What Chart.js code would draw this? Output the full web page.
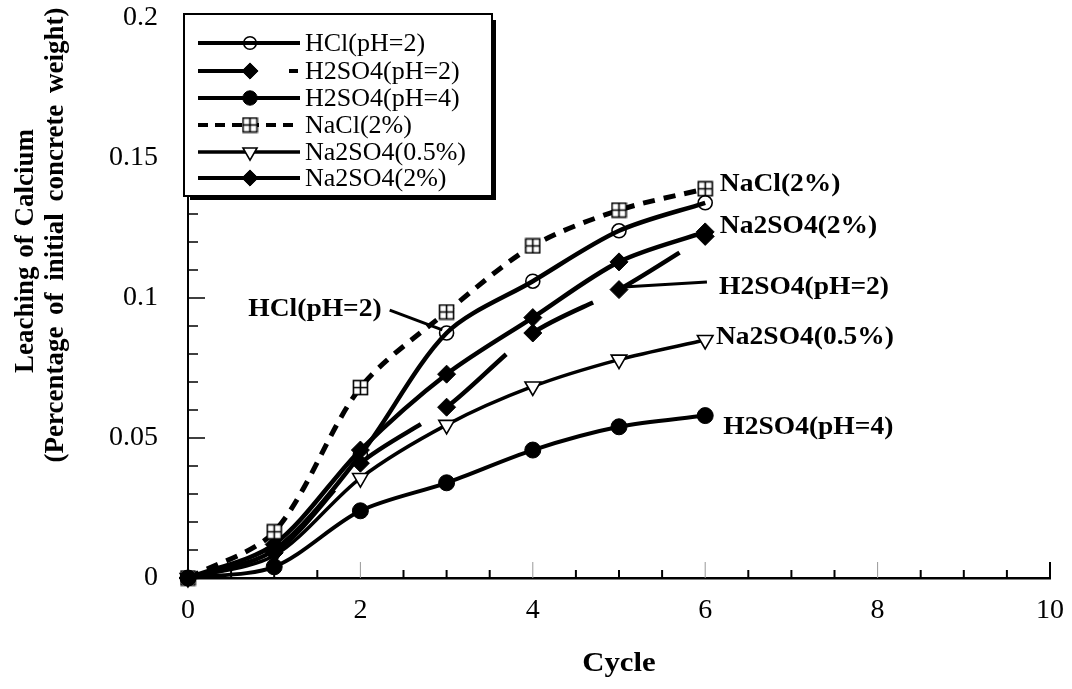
<!DOCTYPE html>
<html>
<head>
<meta charset="utf-8">
<script src="https://cdn.jsdelivr.net/npm/chart.js"></script>
<style>
  body { margin: 0; background: #fff; }
  #wrap { width: 1072px; height: 689px; }
</style>
</head>
<body>
<div id="wrap"><canvas id="leachChart" width="1072" height="689"></canvas></div>
<script>
// values (fraction of initial concrete weight)
const cycles = [0, 1, 2, 3, 4, 5, 6];
const hclPH2 = [0, 0.010, 0.044, 0.0875, 0.106, 0.124, 0.134];
const h2so4PH2 = [0, 0.009, 0.041, 0.061, 0.0875, 0.103, 0.122];
const h2so4PH4 = [0, 0.004, 0.024, 0.034, 0.0457, 0.054, 0.058];
const nacl2 = [0, 0.0165, 0.068, 0.095, 0.1186, 0.1314, 0.139];
const na2so405 = [0, 0.008, 0.0357, 0.0547, 0.0684, 0.078, 0.085];
const na2so42 = [0, 0.012, 0.0457, 0.0728, 0.093, 0.1129, 0.1236];

const seriesNames = ['HCl(pH=2)', 'H2SO4(pH=2)', 'H2SO4(pH=4)', 'NaCl(2%)', 'Na2SO4(0.5%)', 'Na2SO4(2%)'];
const yTicks = [0, 0.05, 0.1, 0.15, 0.2];
const xTicks = [0, 2, 4, 6, 8, 10];

const SERIF = "'Liberation Serif', 'Times New Roman', serif";

function toPoints(vals) {
	return cycles.map((c, i) => ({x: c, y: vals[i]}));
}

// square with a cross, like the NaCl marker
function makeBoxCross(size) {
	const c = document.createElement('canvas');
	c.width = size; c.height = size;
	const g = c.getContext('2d');
	g.fillStyle = '#fff';
	g.fillRect(1, 1, size - 2, size - 2);
	g.strokeStyle = '#000';
	g.lineWidth = 1.6;
	g.strokeRect(1.5, 1.5, size - 3, size - 3);
	g.beginPath();
	g.moveTo(size / 2, 1.5); g.lineTo(size / 2, size - 1.5);
	g.moveTo(1.5, size / 2); g.lineTo(size - 1.5, size / 2);
	g.stroke();
	return c;
}
const boxCross = makeBoxCross(17);

// long dash that restarts at every data point (like the H2SO4 pH=2 curve)
function restartDash(ctx) {
	const dx = ctx.p1.x - ctx.p0.x, dy = ctx.p1.y - ctx.p0.y;
	const len = Math.sqrt(dx * dx + dy * dy);
	return [Math.max(len * 0.7, 1), 3000];
}

const datasets = [
	{label: seriesNames[0], data: toPoints(hclPH2), borderColor: '#000', borderWidth: 4.5,
	 pointStyle: 'circle', pointRadius: 7, pointBorderWidth: 1.6, pointBackgroundColor: 'rgba(0,0,0,0)', pointBorderColor: '#000'},
	{label: seriesNames[1], data: toPoints(h2so4PH2), borderColor: '#000', borderWidth: 4.5,
	 segment: {borderDash: restartDash},
	 pointStyle: 'rectRot', pointRadius: 9, pointBorderWidth: 1, pointBackgroundColor: '#000', pointBorderColor: '#000'},
	{label: seriesNames[2], data: toPoints(h2so4PH4), borderColor: '#000', borderWidth: 4,
	 pointStyle: 'circle', pointRadius: 8, pointBorderWidth: 1, pointBackgroundColor: '#000', pointBorderColor: '#000'},
	{label: seriesNames[3], data: toPoints(nacl2), borderColor: '#000', borderWidth: 5, borderDash: [12, 9],
	 pointStyle: boxCross, pointRadius: 8},
	{label: seriesNames[4], data: toPoints(na2so405), borderColor: '#000', borderWidth: 3.5,
	 pointStyle: 'triangle', rotation: 180, pointRadius: 9, pointBorderWidth: 1.6, pointBackgroundColor: '#fff', pointBorderColor: '#000'},
	{label: seriesNames[5], data: toPoints(na2so42), borderColor: '#000', borderWidth: 4.5,
	 pointStyle: 'rectRot', pointRadius: 9, pointBorderWidth: 1, pointBackgroundColor: '#000', pointBorderColor: '#000'}
];
datasets.forEach(d => { d.tension = 0.3; d.clip = false; d.fill = false; });

// inward tick marks on both axes
const axisTicks = {
	id: 'axisTicks',
	beforeDatasetsDraw(chart) {
		const {ctx, chartArea} = chart;
		const xs = chart.scales.x, ys = chart.scales.y;
		ctx.save();
		ctx.strokeStyle = '#000';
		for (let v = 1; v < 20; v++) {
			const py = ys.getPixelForValue(v / 100);
			const major = v % 5 === 0;
			ctx.lineWidth = 1.5;
			ctx.beginPath();
			ctx.moveTo(chartArea.left, py);
			ctx.lineTo(chartArea.left + (major ? 17 : 10), py);
			ctx.stroke();
		}
		for (let k = 1; k <= 20; k++) {
			const v = k / 2;
			const px = xs.getPixelForValue(v);
			ctx.beginPath();
			if (v === 10) {
				ctx.lineWidth = 2; ctx.strokeStyle = '#000';
				ctx.moveTo(px, chartArea.bottom); ctx.lineTo(px, chartArea.bottom - 16);
			} else if (v % 2 === 0) {
				ctx.lineWidth = 1; ctx.strokeStyle = '#999';
				ctx.moveTo(px, chartArea.bottom); ctx.lineTo(px, chartArea.bottom - 16);
			} else {
				ctx.lineWidth = 2; ctx.strokeStyle = '#000';
				ctx.moveTo(px, chartArea.bottom); ctx.lineTo(px, chartArea.bottom - 8);
			}
			ctx.stroke();
		}
		ctx.restore();
	}
};

function drawMarker(ctx, ds, x, y) {
	if (Chart.helpers && Chart.helpers.drawPoint) {
		ctx.fillStyle = ds.pointBackgroundColor || '#000';
		ctx.strokeStyle = ds.pointBorderColor || '#000';
		ctx.lineWidth = ds.pointBorderWidth || 1;
		ctx.setLineDash([]);
		Chart.helpers.drawPoint(ctx, {pointStyle: ds.pointStyle, radius: ds.pointRadius, rotation: ds.rotation || 0, borderWidth: ds.pointBorderWidth || 1}, x, y);
	}
}

// text a bit wider than the font, as in the scanned figure
function wideText(ctx, text, x, y, sx) {
	ctx.save();
	ctx.translate(x, y);
	ctx.scale(sx, 1);
	ctx.fillText(text, 0, 0);
	ctx.restore();
}

function drawJustified(ctx, text, span) {
	const words = text.split(' ');
	const widths = words.map(w => ctx.measureText(w).width);
	const total = widths.reduce((a, b) => a + b, 0);
	const gap = words.length > 1 ? (span - total) / (words.length - 1) : 0;
	let x = -span / 2;
	words.forEach((w, i) => {
		ctx.fillText(w, x, 0);
		x += widths[i] + gap;
	});
}

// legend box, axis titles and the curve labels
const decorations = {
	id: 'decorations',
	afterDatasetsDraw(chart) {
		const {ctx} = chart;
		const xs = chart.scales.x, ys = chart.scales.y;
		ctx.save();

		// curve labels at the right
		ctx.fillStyle = '#000';
		ctx.font = 'bold 25px ' + SERIF;
		ctx.textBaseline = 'middle';
		ctx.textAlign = 'left';
		const notes = [
			{text: 'NaCl(2%)', x: 6.17, y: 0.1404},
			{text: 'Na2SO4(2%)', x: 6.17, y: 0.1254},
			{text: 'H2SO4(pH=2)', x: 6.16, y: 0.1039},
			{text: 'Na2SO4(0.5%)', x: 6.125, y: 0.0857},
			{text: 'H2SO4(pH=4)', x: 6.21, y: 0.0539},
			{text: 'HCl(pH=2)', x: 0.70, y: 0.0957}
		];
		notes.forEach(n => wideText(ctx, n.text, xs.getPixelForValue(n.x), ys.getPixelForValue(n.y), 1.1));

		// leader lines
		ctx.strokeStyle = '#000';
		ctx.lineWidth = 3;
		const leaders = [
			[2.34, 0.0957, 2.95, 0.0886],
			[5.05, 0.1039, 6.02, 0.1057]
		];
		leaders.forEach(l => {
			ctx.beginPath();
			ctx.moveTo(xs.getPixelForValue(l[0]), ys.getPixelForValue(l[1]));
			ctx.lineTo(xs.getPixelForValue(l[2]), ys.getPixelForValue(l[3]));
			ctx.stroke();
		});

		// legend box with shadow
		const bx = 184, by = 14, bw = 308, bh = 182;
		ctx.fillStyle = '#fff';
		ctx.fillRect(bx, by, bw, bh);
		ctx.lineWidth = 2;
		ctx.strokeRect(bx, by, bw, bh);
		ctx.lineWidth = 4;
		ctx.beginPath();
		ctx.moveTo(bx + bw + 2, by + 6);
		ctx.lineTo(bx + bw + 2, by + bh + 2);
		ctx.lineTo(bx + 6, by + bh + 2);
		ctx.stroke();

		const rows = [43, 71, 98, 125, 152, 178];
		ctx.font = '26px ' + SERIF;
		ctx.textBaseline = 'middle';
		ctx.textAlign = 'left';
		chart.data.datasets.forEach((ds, i) => {
			const y = rows[i];
			ctx.strokeStyle = '#000';
			ctx.lineWidth = Math.min(ds.borderWidth, 4);
			ctx.beginPath();
			if (i === 1) {
				ctx.setLineDash([]);
				ctx.moveTo(198, y); ctx.lineTo(252, y);
				ctx.moveTo(289, y); ctx.lineTo(298, y);
			} else {
				ctx.setLineDash(ds.borderDash ? [10, 7] : []);
				ctx.moveTo(198, y); ctx.lineTo(300, y);
			}
			ctx.stroke();
			ctx.setLineDash([]);
			drawMarker(ctx, Object.assign({}, ds, {pointRadius: ds.pointRadius * 0.9}), 250, y);
			ctx.fillStyle = '#000';
			ctx.fillText(ds.label, 305, y + 1);
		});

		// axis titles
		ctx.font = 'bold 28px ' + SERIF;
		ctx.textAlign = 'center';
		ctx.textBaseline = 'middle';
		wideText(ctx, 'Cycle', (chart.chartArea.left + chart.chartArea.right) / 2, 664, 1.1);

		ctx.font = 'bold 27px ' + SERIF;
		ctx.textAlign = 'left';
		ctx.save();
		ctx.translate(26, 251);
		ctx.rotate(-Math.PI / 2);
		drawJustified(ctx, 'Leaching of Calcium', 244);
		ctx.restore();
		ctx.save();
		ctx.translate(56, 235);
		ctx.rotate(-Math.PI / 2);
		drawJustified(ctx, '(Percentage of initial concrete weight)', 455);
		ctx.restore();

		ctx.restore();
	}
};

new Chart(document.getElementById('leachChart'), {
	type: 'line',
	data: {datasets: datasets},
	options: {
		responsive: false,
		animation: false,
		layout: {padding: {top: 18, right: 22, left: 0, bottom: 0}},
		plugins: {
			legend: {display: false},
			tooltip: {enabled: false}
		},
		scales: {
			x: {
				type: 'linear',
				min: 0, max: 10,
				afterFit(scale) {
					scale.height = 111;
					scale.paddingLeft = 0;
					scale.paddingRight = 0;
				},
				afterBuildTicks(scale) { scale.ticks = xTicks.map(v => ({value: v})); },
				grid: {display: true, drawOnChartArea: false, drawTicks: false},
				border: {display: true, color: '#000', width: 2.5},
				ticks: {color: '#000', padding: 16, font: {family: SERIF, size: 28}}
			},
			y: {
				type: 'linear',
				min: 0, max: 0.2,
				afterFit(scale) {
					scale.width = 188;
					scale.paddingTop = 0;
					scale.paddingBottom = 0;
				},
				afterBuildTicks(scale) { scale.ticks = yTicks.map(v => ({value: v})); },
				grid: {display: true, drawOnChartArea: false, drawTicks: false},
				border: {display: true, color: '#000', width: 2},
				ticks: {
					color: '#000', padding: 30, font: {family: SERIF, size: 28},
					callback: v => String(parseFloat(v.toFixed(2)))
				}
			}
		}
	},
	plugins: [axisTicks, decorations]
});
</script>
</body>
</html>
